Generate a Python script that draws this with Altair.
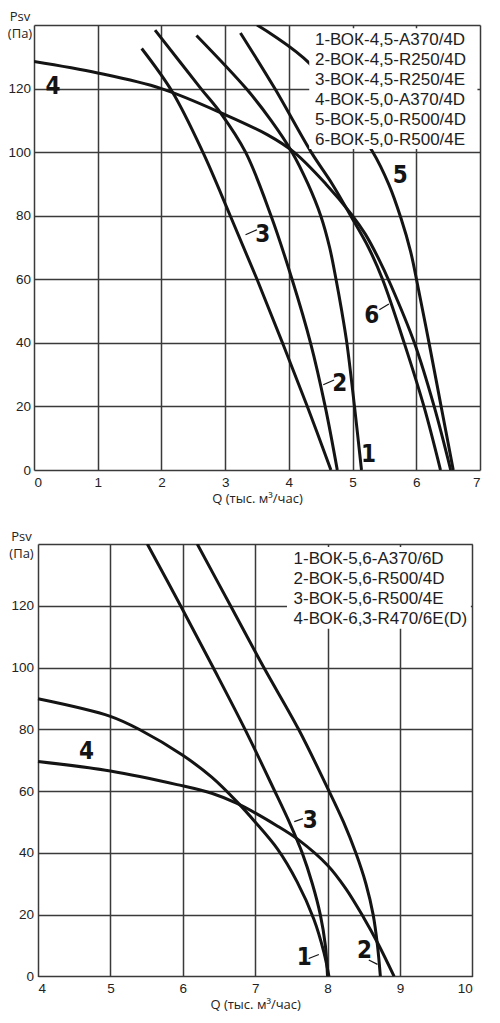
import altair as alt
import pandas as pd

# ---------------- top chart: Q (thousand m3/h) vs Psv (Pa) ----------------
top_c1_q = [2.55, 3.33, 3.72, 4.05, 4.30, 4.50, 4.64, 4.74, 4.83, 4.91, 5.03, 5.14]
top_c1_p = [136.7, 120, 110, 100, 90, 80, 70, 60, 50, 40, 20, 0]
top_c2_q = [1.90, 2.62, 2.93, 3.32, 3.72, 4.05, 4.34, 4.57, 4.76]
top_c2_p = [138.4, 120, 112.3, 100, 80, 60, 40, 20, 0]
top_c3_q = [1.69, 2.17, 2.65, 3.08, 3.50, 3.90, 4.29, 4.66]
top_c3_p = [132.6, 119, 100, 80, 60, 40, 20, 0]
top_c4_q = [0, 1, 2, 3, 3.66, 4.08, 4.58, 4.98, 5.20, 5.40, 5.60, 5.97, 6.28, 6.54]
top_c4_p = [128.5, 124.9, 120, 111.8, 105.5, 100, 90, 80.5, 74.2, 66.8, 58.2, 40, 20, 0]
top_c5_q = [3.5, 4.32, 5.31, 5.57, 5.76, 5.91, 6.02, 6.20, 6.39, 6.58]
top_c5_p = [140, 128, 100.3, 89.8, 79.2, 68.8, 58.3, 40, 20, 0]
top_c6_q = [3.24, 3.78, 4.35, 4.68, 4.97, 5.25, 5.47, 5.81, 6.12, 6.38]
top_c6_p = [137.5, 120, 100, 90, 80, 70, 60, 40, 20, 0]

top_x_ticks = [0, 1, 2, 3, 4, 5, 6, 7]
top_legend = ["1-ВОК-4,5-A370/4D", "2-ВОК-4,5-R250/4D", "3-ВОК-4,5-R250/4E",
              "4-ВОК-5,0-A370/4D", "5-ВОК-5,0-R500/4D", "6-ВОК-5,0-R500/4E"]
top_lab_text = ["1", "2", "3", "4", "5", "6"]
top_lab_q = [5.25, 4.80, 3.59, 0.30, 5.75, 5.30]
top_lab_p = [2.4, 24.7, 71.7, 118.3, 90.3, 46.2]
top_lead_q1 = [4.54, 3.32, 5.42]
top_lead_q2 = [4.71, 3.50, 5.57]
top_lead_p1 = [26.8, 74.0, 50.4]
top_lead_p2 = [28.3, 75.6, 52.2]

# ---------------- bottom chart ----------------
bot_c1_q = [4, 5, 5.42, 6, 6.40, 6.75, 7.0, 7.31, 7.58, 7.81, 7.95, 8.02]
bot_c1_p = [89.9, 84.2, 79.7, 71.6, 64.5, 56.5, 50, 41.2, 30.6, 18.6, 7.8, 0]
bot_c2_q = [6.2, 6.66, 7.12, 7.6, 8.0, 8.22, 8.39, 8.53, 8.63, 8.69, 8.73]
bot_c2_p = [140, 120, 100, 80, 61, 50, 40, 30, 20, 10, 0]
bot_c3_q = [5.51, 5.97, 6.42, 6.86, 7.25, 7.49, 7.65, 7.79, 7.90, 7.97, 8.0]
bot_c3_p = [140, 120, 100, 80, 61, 49, 40, 30, 20, 10, 0]
bot_c4_q = [4, 5, 5.92, 6.4, 6.75, 7.3, 7.6, 8.0, 8.25, 8.5, 8.7, 8.92]
bot_c4_p = [69.6, 66.5, 62.1, 59.3, 56, 48.8, 44.2, 36, 28.5, 19, 10.5, 0]

bot_x_ticks = [4, 5, 6, 7, 8, 9, 10]
bot_legend = ["1-ВОК-5,6-A370/6D", "2-ВОК-5,6-R500/4D", "3-ВОК-5,6-R500/4E",
              "4-ВОК-6,3-R470/6E(D)"]
bot_lab_text = ["1", "2", "3", "4"]
bot_lab_q = [7.68, 8.51, 7.76, 4.67]
bot_lab_p = [3.7, 5.8, 47.9, 70.4]
bot_lead_q1 = [7.54, 7.74, 8.57]
bot_lead_q2 = [7.66, 7.88, 8.69]
bot_lead_p1 = [50.1, 5.8, 5.3]
bot_lead_p2 = [51.1, 7.1, 3.9]

y_ticks = [0, 20, 40, 60, 80, 100, 120, 140]

INK = "#141414"
GRID = "#3a3a3a"
LABEL_FONT = "Liberation Sans Narrow, DejaVu Sans Condensed, sans-serif"


def curves_frame(curves):
    rows = []
    for name, qs, ps in curves:
        for i, (q, p) in enumerate(zip(qs, ps)):
            rows.append({"curve": name, "i": i, "Q": q, "P": p})
    return pd.DataFrame(rows)


def panel(curves, xdom, xticks, xrange, W, H, box, legend, leg_q, leg_p0,
          labs, leads, ytitle_x, ytitle_y, ylabpad):
    xs = alt.Scale(domain=xdom, range=xrange, nice=False, zero=False)
    ys = alt.Scale(domain=[0, 140], nice=False, zero=False)
    xaxis = alt.Axis(values=xticks, grid=True, ticks=False, tickSize=0, domain=False,
                     labelPadding=16.5, labelBaseline="alphabetic", format="d",
                     labelFont="Liberation Sans", labelFontSize=13.5, labelColor="#222",
                     gridColor=GRID, gridWidth=1.5, gridOpacity=1,
                     title="Q (тыс. м³/час)", titleY=32.5, titleBaseline="alphabetic",
                     titleFont="Open Sans", titleFontSize=13, titleColor="#222",
                     titleFontWeight="normal")
    yaxis = alt.Axis(values=y_ticks, grid=True, ticks=False, tickSize=0, domain=False,
                     labelPadding=ylabpad, labelBaseline="middle", format="d",
                     labelExpr="datum.value == 140 ? '' : datum.label",
                     labelFont="Liberation Sans", labelFontSize=13.5, labelColor="#222",
                     gridColor=GRID, gridWidth=1.5, gridOpacity=1,
                     title=["Psv", "(Па)"], titleAngle=0, titleX=ytitle_x, titleY=ytitle_y,
                     titleAlign="center", titleBaseline="alphabetic", titleLineHeight=17,
                     titleFont="Open Sans", titleFontSize=13, titleColor="#222",
                     titleFontWeight="normal")
    X = lambda f: alt.X(f, type="quantitative", scale=xs, axis=xaxis)
    Y = lambda f: alt.Y(f, type="quantitative", scale=ys, axis=yaxis)

    lines = alt.Chart(curves_frame(curves)).mark_line(
        color=INK, strokeWidth=3, interpolate="catmull-rom", clip=True
    ).encode(x=X("Q"), y=Y("P"), detail="curve:N", order="i:Q")

    lead_df = pd.DataFrame({"Q": leads[0], "Q2": leads[1], "P": leads[2], "P2": leads[3]})
    leaders = alt.Chart(lead_df).mark_rule(color=INK, strokeWidth=1.2).encode(
        x=X("Q"), x2="Q2", y=Y("P"), y2="P2")

    box_df = pd.DataFrame({"Q": [box[0]], "Q2": [box[1]], "P": [box[2]], "P2": [box[3]]})
    boxm = alt.Chart(box_df).mark_rect(color="white", opacity=1).encode(
        x=X("Q"), x2="Q2", y=Y("P"), y2="P2")

    step = 20 * 140 / H
    leg_df = pd.DataFrame({"t": legend,
                           "Q": [leg_q] * len(legend),
                           "P": [leg_p0 - k * step for k in range(len(legend))]})
    legm = alt.Chart(leg_df).mark_text(
        align="left", baseline="alphabetic", font="Liberation Sans", fontSize=17, color="#1e1e1e"
    ).encode(x=X("Q"), y=Y("P"), text="t:N")

    lab_df = pd.DataFrame({"t": labs[0], "Q": labs[1], "P": labs[2]})
    labm = alt.Chart(lab_df).mark_text(
        align="center", baseline="alphabetic", font=LABEL_FONT, fontSize=24,
        fontWeight="bold", color=INK
    ).encode(x=X("Q"), y=Y("P"), text="t:N")

    return alt.layer(lines, leaders, boxm, legm, labm).properties(width=W, height=H)


top = panel(
    [("1", top_c1_q, top_c1_p), ("2", top_c2_q, top_c2_p), ("3", top_c3_q, top_c3_p),
     ("4", top_c4_q, top_c4_p), ("5", top_c5_q, top_c5_p), ("6", top_c6_q, top_c6_p)],
    [0, 7], top_x_ticks, [0, 446], 446, 445,
    (4.32, 6.96, 101, 139), top_legend, 4.41, 133.64,
    (top_lab_text, top_lab_q, top_lab_p),
    (top_lead_q1, top_lead_q2, top_lead_p1, top_lead_p2),
    -14.5, -4.5, 3.5)

bottom = panel(
    [("1", bot_c1_q, bot_c1_p), ("2", bot_c2_q, bot_c2_p), ("3", bot_c3_q, bot_c3_p),
     ("4", bot_c4_q, bot_c4_p)],
    [4, 10], bot_x_ticks, [4, 438.3], 438.3, 432.4,
    (7.44, 9.98, 112.6, 139), bot_legend, 7.53, 133.66,
    (bot_lab_text, bot_lab_q, bot_lab_p),
    (bot_lead_q1, bot_lead_q2, bot_lead_p1, bot_lead_p2),
    -13, -4, 0.5)

chart = alt.vconcat(top, bottom, spacing=74, bounds="flush").properties(
    padding={"left": -1, "top": 2, "right": 5, "bottom": 5},
    background="white"
).configure_view(stroke=None)

chart.save("out.html", embed_options={"renderer": "svg", "actions": False})
